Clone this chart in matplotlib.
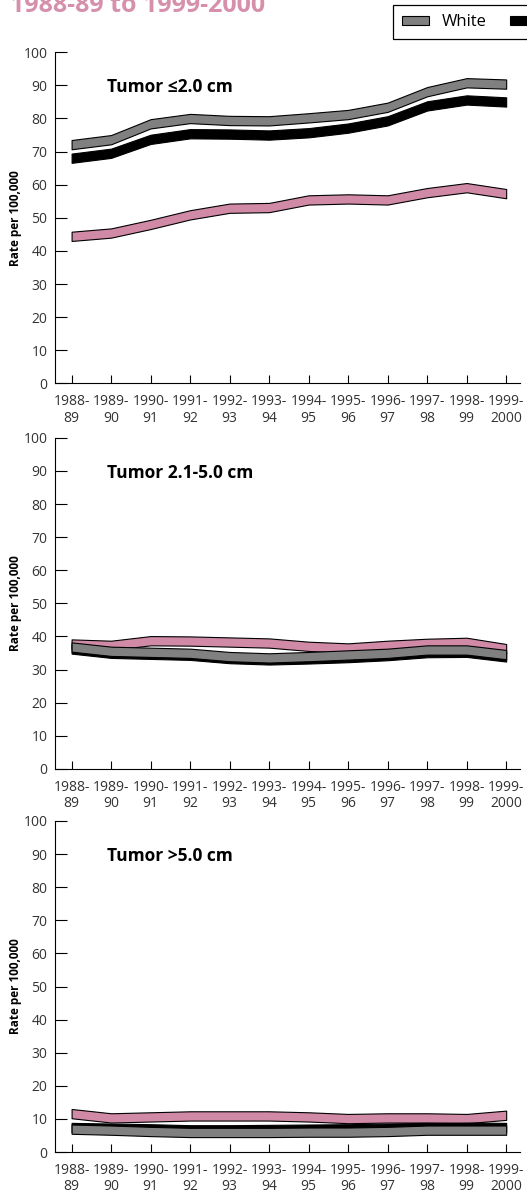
import matplotlib
matplotlib.use("Agg")
import matplotlib.pyplot as plt
import numpy as np

plt.rcParams['font.family'] = ['Open Sans', 'DejaVu Sans']

# periodlar (x ekseni)
periods = ['1988-\n89', '1989-\n90', '1990-\n91', '1991-\n92', '1992-\n93', '1993-\n94',
           '1994-\n95', '1995-\n96', '1996-\n97', '1997-\n98', '1998-\n99', '1999-\n2000']

# Tumor <=2.0 cm
white_small = [72.1, 73.6, 78.4, 80.0, 79.4, 79.3, 80.2, 81.2, 83.4, 88.1, 90.8, 90.4]
black_small = [68.0, 69.5, 73.7, 75.4, 75.3, 75.0, 75.7, 77.1, 79.3, 83.8, 85.6, 85.0]
api_small = [44.4, 45.4, 48.0, 50.9, 52.9, 53.1, 55.4, 55.7, 55.4, 57.6, 59.1, 57.3]

# Tumor 2.1-5.0 cm
white_mid = [36.8, 35.5, 35.2, 34.9, 33.9, 33.5, 33.9, 34.4, 34.9, 35.9, 35.9, 34.5]
black_mid = [36.2, 34.9, 34.6, 34.3, 33.3, 32.9, 33.2, 33.6, 34.2, 35.1, 35.2, 33.8]
api_mid = [37.7, 37.3, 38.7, 38.6, 38.3, 38.0, 37.0, 36.5, 37.3, 37.9, 38.2, 36.3]

# Tumor >5.0 cm
white_large = [6.9, 6.6, 6.2, 5.9, 5.9, 5.9, 6.0, 6.0, 6.2, 6.6, 6.6, 6.6]
black_large = [7.4, 7.2, 7.0, 6.7, 6.7, 6.8, 6.9, 7.0, 7.2, 7.4, 7.5, 7.4]
api_large = [11.6, 10.3, 10.6, 10.9, 10.9, 10.9, 10.6, 10.1, 10.3, 10.3, 10.1, 11.1]

panel_titles = ['Tumor \u22642.0 cm', 'Tumor 2.1-5.0 cm', 'Tumor >5.0 cm']
series_names = ['White', 'Black', 'Asian/Pacific Islander']

GRAY = '#808080'
PINK = '#d08aa5'
HW = 1.4  # bant kalinligi (yarisi)

fig = plt.figure(figsize=(5.27, 11.93), dpi=100)

left = 55 / 527
width = 465 / 527
bottoms = [1 - 383.3 / 1193, 1 - 768.8 / 1193, 1 - 1152 / 1193]
height = 331 / 1193

data = [(white_small, black_small, api_small),
        (white_mid, black_mid, api_mid),
        (white_large, black_large, api_large)]

x = np.arange(len(periods))
handles = None
for i, (w, b, a) in enumerate(data):
    ax = fig.add_axes([left, bottoms[i], width, height])
    w, b, a = np.array(w), np.array(b), np.array(a)
    hp = ax.fill_between(x, a - HW, a + HW, facecolor=PINK, edgecolor='black', linewidth=0.8)
    hb = ax.fill_between(x, b - HW, b + HW, facecolor='black', edgecolor='black', linewidth=0.8)
    hw = ax.fill_between(x, w - HW, w + HW, facecolor=GRAY, edgecolor='black', linewidth=0.8)
    if handles is None:
        handles = [hw, hb, hp]

    ax.set_xlim(-0.42, 11.35)
    ax.set_ylim(0, 100)
    ax.set_yticks(range(0, 101, 10))
    ax.set_xticks(x)
    ax.set_xticklabels(periods, linespacing=1.1)
    for s in ['top', 'right']:
        ax.spines[s].set_visible(False)
    for s in ['left', 'bottom']:
        ax.spines[s].set_linewidth(0.8)
    ax.tick_params(axis='y', direction='in', length=8.5, width=0.8, pad=5.5,
                   labelsize=10, labelcolor='#333333')
    ax.tick_params(axis='x', direction='in', length=5.5, width=0.8, pad=8,
                   labelsize=10, labelcolor='#333333')
    ax.text(-0.086, 0.5, 'Rate per 100,000', transform=ax.transAxes, rotation=90,
            ha='center', va='center', fontsize=8.5, fontweight='bold')
    ax.text(0.89, 89.5, panel_titles[i], ha='left', va='center',
            fontsize=12.5, fontweight='bold')

fig.text(10 / 527, 1 - 12 / 1193, '1988-89 to 1999-2000', color='#d690ab',
         fontsize=18, fontweight='bold', ha='left', va='baseline')

leg = fig.legend(handles, series_names, loc='upper left',
                 bbox_to_anchor=(393 / 527, 1 - 5 / 1193), ncol=3, frameon=True,
                 fancybox=False, edgecolor='black', framealpha=1, fontsize=12,
                 handlelength=1.6, handleheight=0.45, handletextpad=0.75,
                 columnspacing=1.4, borderpad=0.55, borderaxespad=0)
leg.get_frame().set_linewidth(0.9)

fig.savefig('out.png', dpi=100)
